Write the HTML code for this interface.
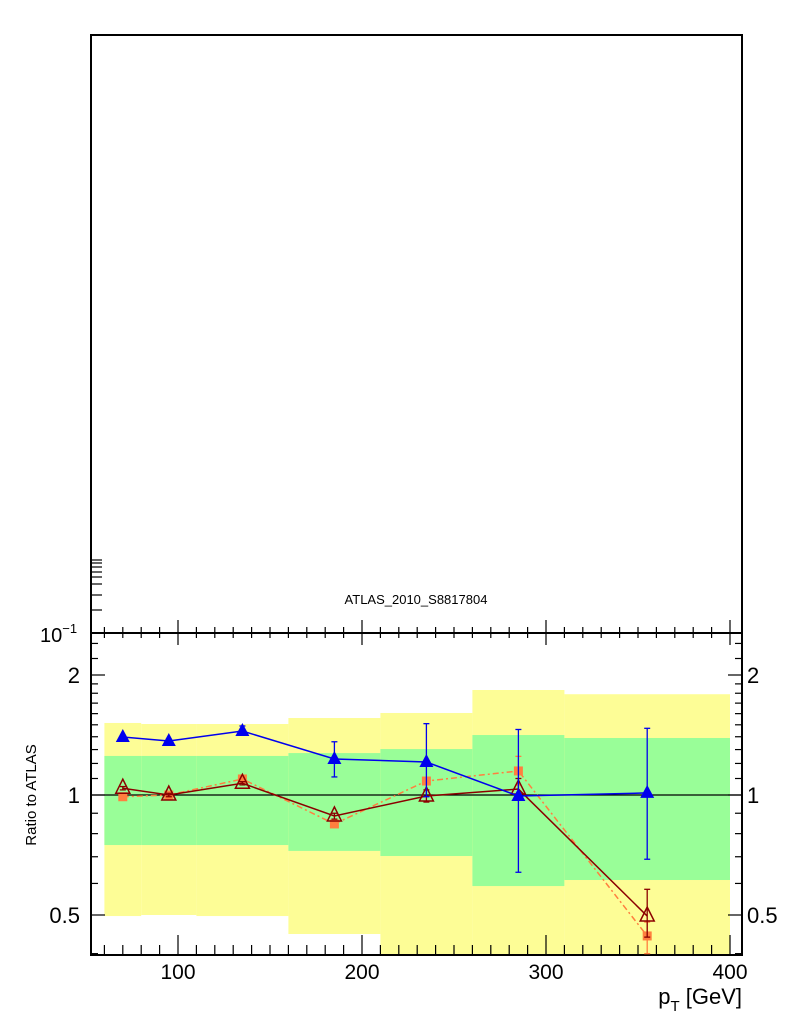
<!DOCTYPE html>
<html><head><meta charset="utf-8"><style>
html,body{margin:0;padding:0;background:#fff;}
svg{display:block;font-family:"Liberation Sans",sans-serif;}
</style></head><body>
<svg id="c" width="786" height="1024" viewBox="0 0 786 1024">
<g id="bands"></g>
<g id="axes"></g>
<g id="series"></g>
<text x="416" y="604" font-size="13" text-anchor="middle">ATLAS_2010_S8817804</text>
<text x="36" y="795" font-size="15" text-anchor="middle" transform="rotate(-90 36 795)">Ratio to ATLAS</text>
<text x="742" y="1004" font-size="22" text-anchor="end">p<tspan font-size="15" dy="7">T</tspan><tspan dy="-7"> [GeV]</tspan></text>
<text x="40" y="642" font-size="20">10<tspan font-size="13" dy="-9">−1</tspan></text>
</svg>
<script>
const binEdges=[60,80,110,160,210,260,310,400];
const yellowHi=[1.516,1.507,1.507,1.56,1.606,1.834,1.79];
const yellowLo=[0.497,0.5,0.497,0.448,0.35,0.35,0.35];
const greenHi=[1.253,1.253,1.253,1.274,1.304,1.414,1.39];
const greenLo=[0.749,0.749,0.749,0.724,0.703,0.591,0.612];
const xPts=[70,95,135,185,235,285,355];
const blueVals=[1.398,1.366,1.447,1.231,1.21,0.994,1.012];
const blueErrHi=[1.41,1.38,1.49,1.36,1.51,1.46,1.47];
const blueErrLo=[1.39,1.355,1.42,1.11,0.99,0.64,0.69];
const brownVals=[1.04,1.0,1.07,0.886,0.994,1.035,0.497];
const brownErrHi=[1.05,1.01,1.08,0.9,1.03,1.1,0.58];
const brownErrLo=[1.03,0.99,1.06,0.87,0.96,0.97,0.44];
const orangeVals=[0.99,1.0,1.097,0.846,1.084,1.149,0.443];
const orangeErrHi=[1.0,1.01,1.11,0.86,1.1,1.25,0.48];
const orangeErrLo=[0.98,0.99,1.085,0.83,1.07,1.06,0.40];
const xTicks=[100,200,300,400];
const yTicks=[0.5,1,2];

const NS="http://www.w3.org/2000/svg";
const X=v=>178+(v-100)*1.84;
const Y=r=>795-120*Math.log2(r);
const L=91,R=742,T=35,M=633,B=955;
function mk(p,tag,at){const e=document.createElementNS(NS,tag);for(const k in at)e.setAttribute(k,at[k]);p.appendChild(e);return e;}
const bands=document.getElementById('bands'),axes=document.getElementById('axes'),ser=document.getElementById('series');
const clipB=v=>Math.min(Math.max(v,M),B);
for(let i=0;i<binEdges.length-1;i++){
 const x0=X(binEdges[i]),x1=X(binEdges[i+1]);
 let y0=clipB(Y(yellowHi[i])),y1=clipB(Y(yellowLo[i]));
 const ry=mk(bands,'rect',{x:x0,y:y0,width:x1-x0,height:y1-y0,fill:'#fdfd96'});
 
 
 y0=Y(greenHi[i]);y1=Y(greenLo[i]);
 const rg=mk(bands,'rect',{x:x0,y:y0,width:x1-x0,height:y1-y0,fill:'#99fe98'});
 
 
}
const rl=mk(axes,'line',{x1:L,x2:R,y1:Y(1),y2:Y(1),stroke:'#000','stroke-width':1.2});


mk(axes,'rect',{x:L,y:T,width:R-L,height:M-T,fill:'none',stroke:'#000','stroke-width':2});
mk(axes,'rect',{x:L,y:M,width:R-L,height:B-M,fill:'none',stroke:'#000','stroke-width':2});
for(let v=60;v<=400;v+=10){
 const major=v%100===0,x=X(v);
 mk(axes,'line',{x1:x,x2:x,y1:B,y2:B-(major?20:10),stroke:'#000','stroke-width':1.2});
 mk(axes,'line',{x1:x,x2:x,y1:M,y2:M+(major?12:5),stroke:'#000','stroke-width':1.2});
 mk(axes,'line',{x1:x,x2:x,y1:M,y2:M-(major?13:6),stroke:'#000','stroke-width':1.2});
}
xTicks.forEach(v=>{const t=mk(axes,'text',{x:X(v),y:979,'font-size':21,'text-anchor':'middle'});t.textContent=v;
 
 });
const minors=[0.4,0.5,0.6,0.7,0.8,0.9,1,1.1,1.2,1.3,1.4,1.5,1.6,1.7,1.8,1.9,2,2.2,2.4];
minors.forEach(r=>{const y=Y(r);if(y<M||y>B)return;const major=yTicks.includes(r),len=major?14:7;
 mk(axes,'line',{x1:L,x2:L+len,y1:y,y2:y,stroke:'#000','stroke-width':1.2});
 mk(axes,'line',{x1:R,x2:R-len,y1:y,y2:y,stroke:'#000','stroke-width':1.2});});
yTicks.forEach(r=>{
 const t=mk(axes,'text',{x:80,y:Y(r)+8,'font-size':22,'text-anchor':'end'});t.textContent=r;
 
 
 const t2=mk(axes,'text',{x:747,y:Y(r)+8,'font-size':22});t2.textContent=r;
 
 });
[610,595,584,577,572,567,563,560].forEach(y=>mk(axes,'line',{x1:L,x2:L+11,y1:y,y2:y,stroke:'#000','stroke-width':1.2}));
function series(vals,hi,lo,color,dash,marker,name){
 const g=mk(ser,'g',{});
 
 
 mk(g,'polyline',{points:xPts.map((v,i)=>X(v)+','+Y(vals[i])).join(' '),fill:'none',stroke:color,'stroke-width':1.5,'stroke-dasharray':dash||''});
 xPts.forEach((v,i)=>{const x=X(v);
  mk(g,'line',{x1:x,x2:x,y1:Y(hi[i]),y2:Y(lo[i]),stroke:color,'stroke-width':1.3});
  mk(g,'line',{x1:x-3,x2:x+3,y1:Y(hi[i]),y2:Y(hi[i]),stroke:color,'stroke-width':1.3});
  mk(g,'line',{x1:x-3,x2:x+3,y1:Y(lo[i]),y2:Y(lo[i]),stroke:color,'stroke-width':1.3});
  const y=Y(vals[i]);let m;
  if(marker==='tri')m=mk(g,'polygon',{points:`${x},${y-8} ${x-7},${y+5} ${x+7},${y+5}`,fill:color});
  else if(marker==='otri')m=mk(g,'polygon',{points:`${x},${y-9} ${x-7},${y+5} ${x+7},${y+5}`,fill:'none',stroke:color,'stroke-width':1.5});
  else m=mk(g,'rect',{x:x-4.5,y:y-4.5,width:9,height:9,fill:color});
  
  
 });
}
series(orangeVals,orangeErrHi,orangeErrLo,'#ff7f3f','6,3,2,3','sq','orange-series');
series(brownVals,brownErrHi,brownErrLo,'#8b0000',null,'otri','brown-series');
series(blueVals,blueErrHi,blueErrLo,'#0000ee',null,'tri','blue-series');
</script>
</body></html>
